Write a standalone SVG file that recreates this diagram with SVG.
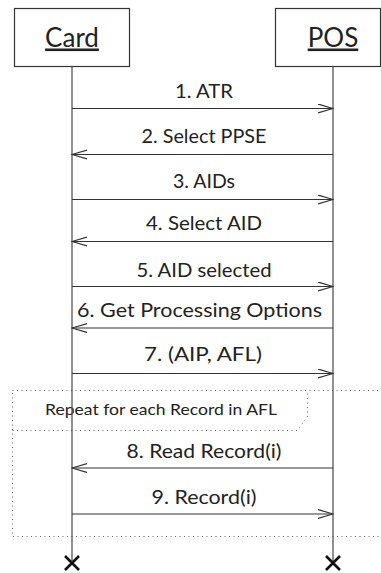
<svg xmlns="http://www.w3.org/2000/svg" width="381" height="573" viewBox="0 0 381 573">
<style>
.box{fill:#fff;stroke:#333;stroke-width:1.2}
.hdr{font-family:Lato,"Liberation Sans",sans-serif;font-size:26px;fill:#222;text-anchor:middle;text-decoration:underline}
.life{stroke:#555;stroke-width:1.3}
.msg{stroke:#333;stroke-width:1.2;fill:none;marker-end:url(#ah)}
.lbl{font-family:Lato,"Liberation Sans",sans-serif;font-size:20px;fill:#222;text-anchor:middle}
.dot{fill:none;stroke:#666;stroke-width:1;stroke-dasharray:1 3.5}
.x{stroke:#111;stroke-width:2.6}
</style>
<defs>
<marker id="ah" markerUnits="userSpaceOnUse" markerWidth="16" markerHeight="12" refX="15" refY="5" orient="auto" viewBox="0 0 16 12">
<path d="M0,0.5 L15,5 L0,9.5" fill="none" stroke="#333" stroke-width="1.2"/>
</marker>
</defs>
<g id="loop">
<rect class="dot" x="12.5" y="390.5" width="380" height="146"/>
<path class="dot" d="M12.5,430.5 L297,430.5 L307.5,417 L307.5,390.5"/>
<text x="161" y="415" textLength="232" lengthAdjust="spacingAndGlyphs" style="font-family:Lato,'Liberation Sans',sans-serif;font-size:16px;fill:#222;text-anchor:middle">Repeat for each Record in AFL</text>
</g>
<g id="card">
<rect class="box" x="14.5" y="8.5" width="115" height="58"/>
<text class="hdr" x="72" y="46.5">Card</text>
<line class="life" x1="72" y1="66.5" x2="72" y2="563"/>
<path class="x" d="M65,556 L79,570 M79,556 L65,570"/>
</g>
<g id="pos">
<rect class="box" x="275.5" y="8.5" width="105" height="58"/>
<text class="hdr" x="333" y="46.5">POS</text>
<line class="life" x1="333" y1="66.5" x2="333" y2="563"/>
<path class="x" d="M326,556 L340,570 M340,556 L326,570"/>
</g>
<g id="messages">
<line class="msg" x1="72" y1="108.5" x2="333" y2="108.5"/>
<text class="lbl" x="204" y="98" textLength="58" lengthAdjust="spacingAndGlyphs">1. ATR</text>
<line class="msg" x1="333" y1="154.5" x2="72" y2="154.5"/>
<text class="lbl" x="204" y="143" textLength="125" lengthAdjust="spacingAndGlyphs">2. Select PPSE</text>
<line class="msg" x1="72" y1="199.5" x2="333" y2="199.5"/>
<text class="lbl" x="204" y="188" textLength="62" lengthAdjust="spacingAndGlyphs">3. AIDs</text>
<line class="msg" x1="333" y1="241.5" x2="72" y2="241.5"/>
<text class="lbl" x="204" y="230" textLength="116" lengthAdjust="spacingAndGlyphs">4. Select AID</text>
<line class="msg" x1="72" y1="286.5" x2="333" y2="286.5"/>
<text class="lbl" x="204" y="276.5" textLength="135" lengthAdjust="spacingAndGlyphs">5. AID selected</text>
<line class="msg" x1="333" y1="328" x2="72" y2="328"/>
<text class="lbl" x="199.5" y="316.5" textLength="245" lengthAdjust="spacingAndGlyphs">6. Get Processing Options</text>
<line class="msg" x1="72" y1="373.5" x2="333" y2="373.5"/>
<text class="lbl" x="203" y="361" textLength="118" lengthAdjust="spacingAndGlyphs">7. (AIP, AFL)</text>
<line class="msg" x1="333" y1="468" x2="72" y2="468"/>
<text class="lbl" x="204" y="458" textLength="155" lengthAdjust="spacingAndGlyphs">8. Read Record(i)</text>
<line class="msg" x1="72" y1="514" x2="333" y2="514"/>
<text class="lbl" x="204" y="504" textLength="105" lengthAdjust="spacingAndGlyphs">9. Record(i)</text>
</g>
</svg>
